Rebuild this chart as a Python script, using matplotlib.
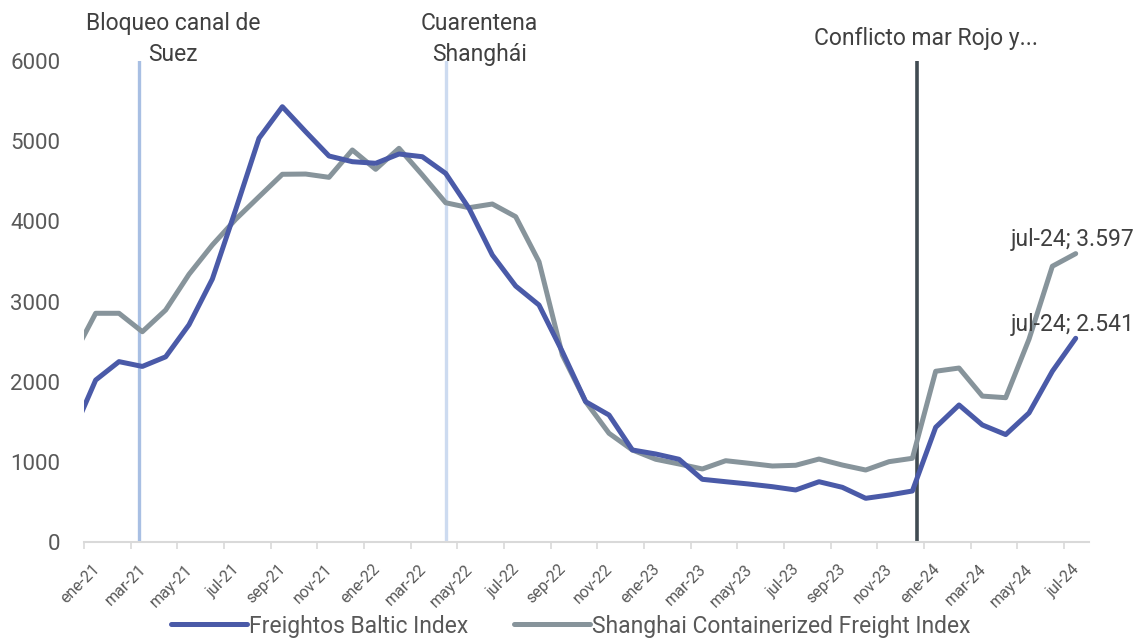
import numpy as np
import matplotlib
matplotlib.use('Agg')
import matplotlib.pyplot as plt
import matplotlib.transforms as mtransforms

plt.rcParams['font.family'] = ['Roboto', 'DejaVu Sans']

# meses desde dic-20 hasta jul-24 (valores mensuales)
meses = ['ene', 'feb', 'mar', 'abr', 'may', 'jun', 'jul', 'ago', 'sep', 'oct', 'nov', 'dic']
fbx = [1350, 2020, 2250, 2190, 2310, 2710, 3280, 4145, 5036, 5430, 5118, 4815, 4744,
       4724, 4840, 4806, 4598, 4162, 3580, 3193, 2956, 2374, 1750, 1584, 1148,
       1098, 1032, 782, 752, 723, 690, 649, 752, 682, 545, 586, 636,
       1431, 1709, 1460, 1340, 1610, 2130, 2541]
scfi = [2300, 2853, 2853, 2623, 2894, 3339, 3705, 4025, 4307, 4587, 4590, 4549, 4890,
        4649, 4911, 4578, 4232, 4170, 4216, 4058, 3496, 2333, 1750, 1356, 1148,
        1032, 973, 911, 1014, 982, 948, 957, 1035, 960, 898, 1002, 1044,
        2130, 2170, 1820, 1800, 2530, 3440, 3597]
# eventos (posicion en meses desde ene-21)
eventos = ['Bloqueo canal de\nSuez', 'Cuarentena\nShanghái', 'Conflicto mar Rojo y...']
ev_pos = [2.36, 15.5, 35.7]

n = len(fbx)
x = np.arange(n) - 0.5  # puntos a mitad de mes, primer punto = dic-20

ticks = np.arange(0, 43, 2)
tick_labels = [meses[t % 12] + '-' + str(21 + t // 12) for t in ticks]

fig = plt.figure(figsize=(11.42, 6.4), dpi=100)
ax = fig.add_axes([84/1142, 1-542/640, (1089-84)/1142, (542-61)/640])

azul = '#4a5aa8'
gris = '#87949b'

ax.axvline(ev_pos[0], color='#a8bfe3', lw=2.4, zorder=1)
ax.axvline(ev_pos[1], color='#cddbf0', lw=2.4, zorder=1)
ax.axvline(ev_pos[2], color='#414b52', lw=2.6, zorder=1)

ax.plot(x, fbx, color=azul, lw=3.6, label='Freightos Baltic Index', zorder=3,
        solid_capstyle='round', solid_joinstyle='round')
ax.plot(x, scfi, color=gris, lw=3.6, label='Shanghai Containerized Freight Index', zorder=2,
        solid_capstyle='round', solid_joinstyle='round')

ax.set_xlim(0, 43.07)
ax.set_ylim(0, 6000)
ax.set_yticks(range(0, 6001, 1000))

for s in ['top', 'right', 'left']:
    ax.spines[s].set_visible(False)
ax.spines['bottom'].set_color('#d9d9d9')
ax.spines['bottom'].set_linewidth(1.5)

ax.tick_params(axis='y', length=0, pad=17, labelsize=16, labelcolor='#595959')
ax.tick_params(axis='x', length=5, width=1.2, color='#d9d9d9', pad=2)
ax.set_xticks(ticks)
ax.set_xticklabels(tick_labels, rotation=45, ha='right', va='center',
                   rotation_mode='anchor', fontsize=11.5, color='#595959')
offset = mtransforms.ScaledTranslation(13/100, -15/100, fig.dpi_scale_trans)
for lab in ax.get_xticklabels():
    lab.set_transform(lab.get_transform() + offset)

# etiquetas de eventos
for lab, p in zip(eventos, ev_pos):
    if '\n' in lab:
        ax.text(p + 1.45, 5935, lab, ha='center', va='bottom', fontsize=16.5,
                color='#404040', linespacing=1.45)
    else:
        ax.text(p + 0.4, 6140, lab, ha='center', va='bottom', fontsize=16.5, color='#404040')

# etiquetas de datos del ultimo punto
for serie in [scfi, fbx]:
    v = serie[-1]
    txt = 'jul-24; ' + f'{v:,.0f}'.replace(',', '.')
    ax.annotate(txt, (x[-1], v), xytext=(59, 14), textcoords='offset pixels',
                ha='right', va='center', fontsize=16.5, color='#404040', annotation_clip=False)

fig.legend(loc='center', bbox_to_anchor=(0.5, 1 - 626/640), ncol=2, frameon=False,
           fontsize=16.5, handlelength=3.3, handletextpad=0.1, columnspacing=2.0,
           labelcolor='#595959')

fig.savefig('out.png', dpi=100)
